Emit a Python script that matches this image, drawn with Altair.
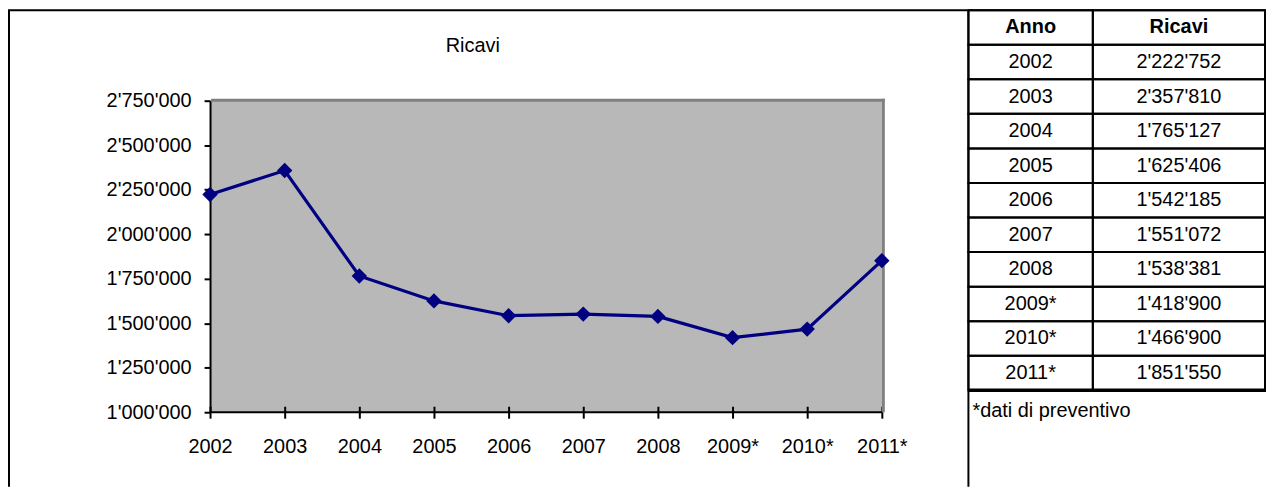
import altair as alt
import pandas as pd

# ---- data ----
years = ["2002", "2003", "2004", "2005", "2006", "2007", "2008", "2009*", "2010*", "2011*"]
ricavi = [2222752, 2357810, 1765127, 1625406, 1542185, 1551072, 1538381, 1418900, 1466900, 1851550]
y_ticks = [1000000, 1250000, 1500000, 1750000, 2000000, 2250000, 2500000, 2750000]
header_anno = "Anno"
header_ricavi = "Ricavi"
title_text = "Ricavi"
note_text = "*dati di preventivo"

FONT = "Liberation Sans, Arial, Helvetica, sans-serif"
FS = 20
NAVY = "#000080"
W, H = 675, 313

# layout (pixels relative to plot origin)
L, T, B = -202, -91, 388
TL, TC, TR, TB = 762, 887, 1060, 291

df = pd.DataFrame({"anno": years, "ricavi": ricavi})

apos = "replace(format(datum.value, ',d'), regexp(',', 'g'), \"'\")"

xenc = alt.X(
    "anno:O",
    scale=alt.Scale(type="point", domain=years, padding=0),
    axis=alt.Axis(title=None, labelAngle=0, domain=False, ticks=True, tickSize=12,
                  tickWidth=2, tickColor="black", offset=-6, labelPadding=18,
                  labelFontSize=FS, labelFont=FONT, labelColor="black", grid=False),
)
yenc = alt.Y(
    "ricavi:Q",
    scale=alt.Scale(domain=[1000000, 2750000], nice=False, zero=False),
    axis=alt.Axis(values=y_ticks, title=None, grid=False, domainColor="black", domainWidth=2,
                  tickColor="black", tickWidth=2, tickSize=6, labelPadding=13,
                  labelFontSize=FS, labelFont=FONT, labelColor="black", labelExpr=apos),
)

line = alt.Chart(df).mark_line(color=NAVY, strokeWidth=3.2).encode(xenc, yenc)
pts = alt.Chart(df).mark_point(shape="diamond", filled=True, color=NAVY, size=240,
                               opacity=1).encode(xenc, yenc)
lc = alt.layer(line, pts)

one = pd.DataFrame({"k": [0]})
gray_top = alt.Chart(one).mark_rule(color="#808080", strokeWidth=3).encode(
    x=alt.value(1), x2=alt.value(W + 3), y=alt.value(-0.5))
gray_right = alt.Chart(one).mark_rule(color="#808080", strokeWidth=3).encode(
    x=alt.value(W + 1.5), y=alt.value(-2), y2=alt.value(H))
x_domain = alt.Chart(one).mark_rule(color="black", strokeWidth=2).encode(
    x=alt.value(0), x2=alt.value(W), y=alt.value(H))

frame = [
    alt.Chart(one).mark_rule(color="black", strokeWidth=2).encode(
        x=alt.value(L), y=alt.value(T), y2=alt.value(B)),
    alt.Chart(one).mark_rule(color="black", strokeWidth=2).encode(
        x=alt.value(L - 1), x2=alt.value(TR + 1), y=alt.value(T)),
    alt.Chart(one).mark_rule(color="black", strokeWidth=2).encode(
        x=alt.value(TL), y=alt.value(T), y2=alt.value(B)),
    alt.Chart(one).mark_rule(color="black", strokeWidth=3.5).encode(
        x=alt.value(TL), x2=alt.value(TR + 1), y=alt.value(TB)),
]

# table
keys = ["h"] + years
tab = pd.DataFrame({
    "key": keys,
    "anno_txt": [header_anno] + years,
    "ric_txt": [header_ricavi] + [f"{v:,}".replace(",", "'") for v in ricavi],
})
yband = alt.Y("key:N", scale=alt.Scale(type="band", domain=keys, range=[T, TB],
                                       paddingInner=0, paddingOuter=0), axis=None)
tbase = alt.Chart(tab)
cells_a = tbase.mark_rect(fillOpacity=0, stroke="black", strokeWidth=2).encode(
    x=alt.value(TL), x2=alt.value(TC), y=yband)
cells_b = tbase.mark_rect(fillOpacity=0, stroke="black", strokeWidth=2).encode(
    x=alt.value(TC), x2=alt.value(TR), y=yband)
txt_a = tbase.mark_text(font=FONT, fontSize=FS, color="black").encode(
    x=alt.value((TL + TC) / 2), y=yband, text="anno_txt:N").transform_filter("datum.key != 'h'")
txt_b = tbase.mark_text(font=FONT, fontSize=FS, color="black").encode(
    x=alt.value((TC + TR) / 2), y=yband, text="ric_txt:N").transform_filter("datum.key != 'h'")
hdr_a = tbase.mark_text(font=FONT, fontSize=FS, fontWeight="bold", color="black").encode(
    x=alt.value((TL + TC) / 2), y=yband, text="anno_txt:N").transform_filter("datum.key == 'h'")
hdr_b = tbase.mark_text(font=FONT, fontSize=FS, fontWeight="bold", color="black").encode(
    x=alt.value((TC + TR) / 2), y=yband, text="ric_txt:N").transform_filter("datum.key == 'h'")
table = alt.layer(cells_a, cells_b, txt_a, txt_b, hdr_a, hdr_b)

title = alt.Chart(pd.DataFrame({"t": [title_text]})).mark_text(
    font=FONT, fontSize=FS, color="black", align="center", baseline="middle").encode(
    x=alt.value(264), y=alt.value(-55), text="t:N")
note = alt.Chart(pd.DataFrame({"t": [note_text]})).mark_text(
    font=FONT, fontSize=FS, color="black", align="left", baseline="middle").encode(
    x=alt.value(766), y=alt.value(312), text="t:N")

chart = alt.layer(gray_top, gray_right, x_domain, lc, table, title, note, *frame).resolve_scale(
    y="independent"
).properties(
    width=W, height=H,
    autosize=alt.AutoSizeParams(type="none"),
    padding={"left": 203, "top": 92, "right": 386, "bottom": 75},
).configure_view(fill="#b8b8b8", stroke=None)

chart.save("out.html", embed_options={"renderer": "svg", "actions": False})
